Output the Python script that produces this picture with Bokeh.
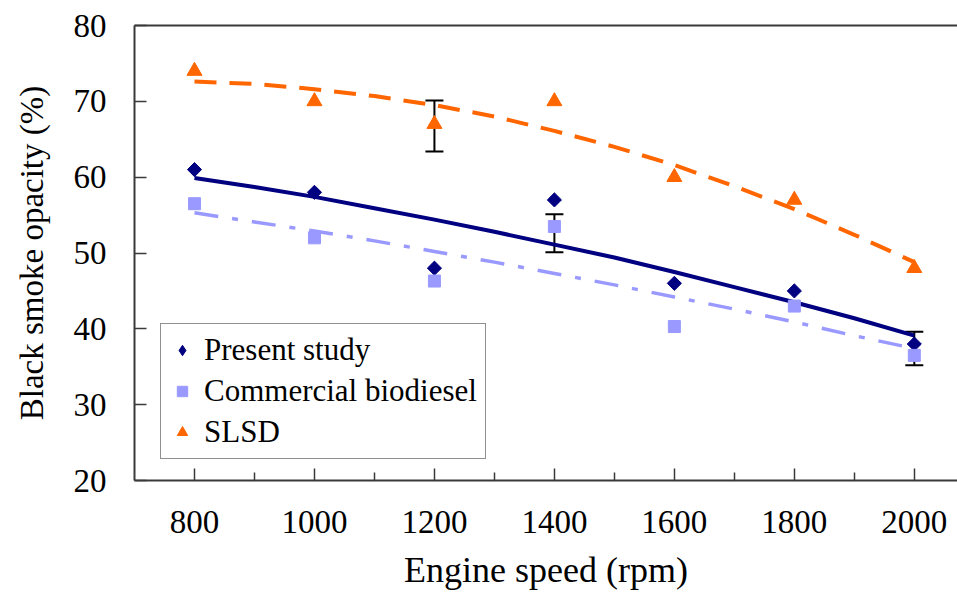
from bokeh.plotting import figure
from bokeh.models import (Range1d, FixedTicker, LinearAxis, Whisker, ColumnDataSource,
                          Legend, LegendItem, TeeHead)
from bokeh.embed import file_html
from bokeh.resources import INLINE

# ---- data ----
speed = [800, 1000, 1200, 1400, 1600, 1800, 2000]
present_study = [61.0, 58.0, 48.0, 57.0, 46.0, 45.0, 38.0]
commercial_biodiesel = [56.5, 52.0, 46.3, 53.5, 40.3, 43.0, 36.5]
slsd = [74.0, 70.0, 67.0, 70.0, 60.0, 57.0, 48.0]

trend_speed = [800, 900, 1000, 1100, 1200, 1300, 1400, 1500, 1600, 1700, 1800, 1900, 2000]
trend_present = [59.9, 58.7, 57.4, 55.9, 54.4, 52.8, 51.1, 49.4, 47.5, 45.5, 43.5, 41.4, 39.1]
trend_commercial = [55.3, 54.1, 52.9, 51.6, 50.2, 48.8, 47.3, 45.8, 44.2, 42.6, 40.9, 39.1, 37.4]
trend_slsd = [72.6, 72.3, 71.6, 70.7, 69.5, 68.0, 66.1, 64.0, 61.6, 58.8, 55.8, 52.4, 48.8]

err_speed = [1200, 1400, 2000]
err_upper = [70.1, 55.1, 39.6]
err_lower = [63.4, 50.1, 35.2]

x_major = [800, 1000, 1200, 1400, 1600, 1800, 2000]
x_minor = [900, 1100, 1300, 1500, 1700, 1900]
y_major = [20, 30, 40, 50, 60, 70, 80]

FONT = "Liberation Serif"
AXIS_COLOR = "#3a3a3a"

p = figure(width=957, height=592, x_range=Range1d(700, 2072), y_range=Range1d(20, 80),
           output_backend="svg", toolbar_location=None,
           min_border_left=134, min_border_right=0, min_border_top=25, min_border_bottom=111)
p.outline_line_color = None
p.xgrid.visible = False
p.ygrid.visible = False
p.background_fill_color = "white"
p.border_fill_color = "white"

# x axis
xa = p.xaxis[0]
xa.ticker = FixedTicker(ticks=x_major, minor_ticks=x_minor)
xa.axis_label = "Engine speed (rpm)"
# y axis
ya = p.yaxis[0]
ya.ticker = FixedTicker(ticks=y_major, minor_ticks=[])
ya.axis_label = "Black smoke opacity (%)"

for ax in (xa, ya):
    ax.axis_line_color = AXIS_COLOR
    ax.axis_line_width = 2
    ax.major_tick_line_color = AXIS_COLOR
    ax.major_tick_line_width = 1.5
    ax.minor_tick_line_color = AXIS_COLOR
    ax.minor_tick_line_width = 1.5
    ax.major_tick_in = 12
    ax.major_tick_out = 0
    ax.minor_tick_in = 8
    ax.minor_tick_out = 0
    ax.major_label_text_font = FONT
    ax.major_label_text_font_size = "33px"
    ax.major_label_text_color = "black"
    ax.axis_label_text_font = FONT
    ax.axis_label_text_font_style = "normal"
    ax.axis_label_text_color = "black"

xa.axis_label_text_font_size = "36px"
ya.axis_label_text_font_size = "33px"
xa.major_label_standoff = 30
xa.axis_label_standoff = 14
ya.major_label_standoff = 28
ya.axis_label_standoff = 21

# top border
top = LinearAxis(ticker=FixedTicker(ticks=[]), axis_line_color=AXIS_COLOR, axis_line_width=2,
                 major_tick_in=0, major_tick_out=0, minor_tick_in=0, minor_tick_out=0,
                 major_label_text_font_size="0px")
p.add_layout(top, "above")

# trend lines
p.line(trend_speed, trend_slsd, line_color="#FF6600", line_width=4, line_dash="22 13")
p.line(trend_speed, trend_commercial, line_color="#9999FF", line_width=3.5, line_dash="24 14 6 14")
p.line(trend_speed, trend_present, line_color="#000080", line_width=4)

# markers
r_present = p.scatter(speed, present_study, marker="square", angle=0.785398, size=10,
                      color="#000080")
r_present_leg = p.scatter(speed, present_study, marker="diamond", size=15,
                          color="#000080", visible=False)
r_comm = p.scatter(speed, commercial_biodiesel, marker="square", size=12, color="#9999FF")
r_slsd = p.scatter(speed, slsd, marker="triangle", size=15, color="#FF6600")

# error bars
src = ColumnDataSource(dict(base=err_speed, upper=err_upper, lower=err_lower))
wh = Whisker(base="base", upper="upper", lower="lower", source=src,
             line_color="black", line_width=2,
             upper_head=TeeHead(size=18, line_color="black", line_width=2),
             lower_head=TeeHead(size=18, line_color="black", line_width=2))
p.add_layout(wh)

legend = Legend(items=[LegendItem(label="Present study", renderers=[r_present_leg]),
                       LegendItem(label="Commercial biodiesel", renderers=[r_comm]),
                       LegendItem(label="SLSD", renderers=[r_slsd])],
                location=(26, 21), orientation="vertical",
                border_line_color="#222222", border_line_width=1.5,
                background_fill_color="white", background_fill_alpha=1,
                label_text_font=FONT, label_text_font_size="31px", label_text_color="black",
                glyph_width=26, glyph_height=30, label_height=30, label_standoff=9,
                padding=8, spacing=5, margin=0)
p.add_layout(legend, "center")

open("out.html", "w").write(file_html(p, INLINE))
